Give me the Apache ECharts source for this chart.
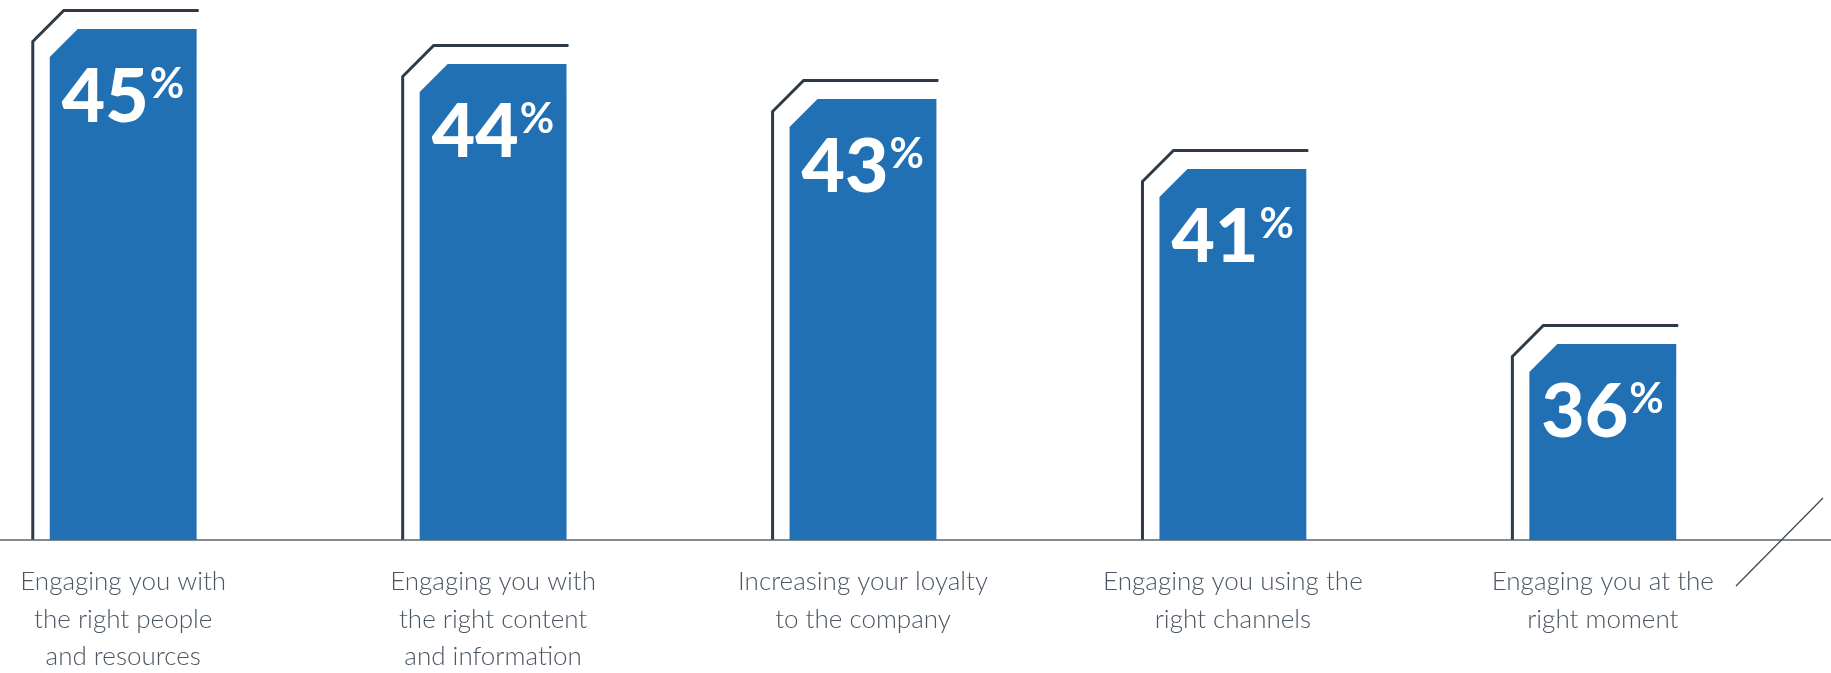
<!DOCTYPE html>
<html>
<head>
<meta charset="utf-8">
<script src="https://cdn.jsdelivr.net/npm/echarts@6/dist/echarts.min.js"></script>
<style>
  html, body { margin: 0; padding: 0; background: #ffffff; }
  #chart { width: 1831px; height: 673px; }
</style>
</head>
<body>
<div id="chart"></div>
<script>
// Survey results: share of respondents per engagement factor
const categories = [
  'Engaging you with\nthe right people\nand resources',
  'Engaging you with\nthe right content\nand information',
  'Increasing your loyalty\nto the company',
  'Engaging you using the\nright channels',
  'Engaging you at the\nright moment'
];
const values = [45, 44, 43, 41, 36];

// Value axis range (bars start from the baseline at axisMin)
const axisMin = 30.4;
const axisMax = 45.4;

const BLUE = '#2170b4';
const OUTLINE = '#2e3a46';
const BASE = '#59646e';
const LABEL = '#4a5662';

const chart = echarts.init(document.getElementById('chart'), null, { renderer: 'canvas' });

// Chamfered bar with an offset outline frame and an inline percentage label
function renderBar(params, api) {
  const idx = api.value(0);
  const val = api.value(1);
  const top = api.coord([idx, val]);
  const base = api.coord([idx, axisMin]);
  const band = api.size([1, 0])[0];
  const bw = band * 0.397;
  const x0 = top[0] - bw / 2;
  const x1 = top[0] + bw / 2;
  const y0 = top[1];
  const yb = base[1];
  const c = 28;
  const ox = x0 - 17;
  const oy = y0 - 18.5;
  const oc = 31;
  return {
    type: 'group',
    children: [
      {
        type: 'polyline',
        shape: { points: [[ox, yb], [ox, oy + oc], [ox + oc, oy], [x1 + 2, oy]] },
        style: { stroke: OUTLINE, lineWidth: 3, fill: null }
      },
      {
        type: 'polygon',
        shape: { points: [[x0, yb], [x0, y0 + c], [x0 + c, y0], [x1, y0], [x1, yb]] },
        style: { fill: BLUE }
      },
      {
        type: 'text',
        x: x0 + 12,
        y: y0 + 31,
        style: {
          text: '{v|' + val + '}{p|%}',
          verticalAlign: 'top',
          align: 'left',
          rich: {
            v: { fontFamily: 'Lato', fontWeight: 900, fontSize: 75, lineHeight: 75, fill: '#ffffff' },
            p: { fontFamily: 'Lato', fontWeight: 700, fontSize: 42, lineHeight: 42, verticalAlign: 'top', fill: '#ffffff', padding: [3, 0, 0, 1] }
          }
        }
      }
    ]
  };
}

chart.setOption({
  animation: false,
  backgroundColor: '#ffffff',
  grid: { left: -61.75, top: 15, width: 1849.5, height: 525, containLabel: false, outerBoundsMode: 'none' },
  xAxis: {
    type: 'category',
    data: categories,
    axisLine: { show: false },
    axisTick: { show: false },
    axisLabel: {
      interval: 0,
      margin: 23,
      fontFamily: 'Lato',
      fontWeight: 300,
      fontSize: 26,
      lineHeight: 37.5,
      color: LABEL,
      align: 'center'
    }
  },
  yAxis: {
    type: 'value',
    min: axisMin,
    max: axisMax,
    show: false,
    splitLine: { show: false }
  },
  series: [{
    type: 'custom',
    renderItem: renderBar,
    data: values.map((v, i) => [i, v]),
    clip: false
  }]
});

// Baseline across the full width and the closing slash at the right
const baseY = chart.convertToPixel({ yAxisIndex: 0 }, axisMin);
chart.setOption({
  graphic: [
    { type: 'line', shape: { x1: 0, y1: baseY, x2: 1831, y2: baseY }, style: { stroke: BASE, lineWidth: 1.5 }, z: 10 },
    { type: 'line', shape: { x1: 1736, y1: 586, x2: 1823, y2: 498 }, style: { stroke: '#3a4551', lineWidth: 1.2 }, z: 10 }
  ]
});
</script>
</body>
</html>
